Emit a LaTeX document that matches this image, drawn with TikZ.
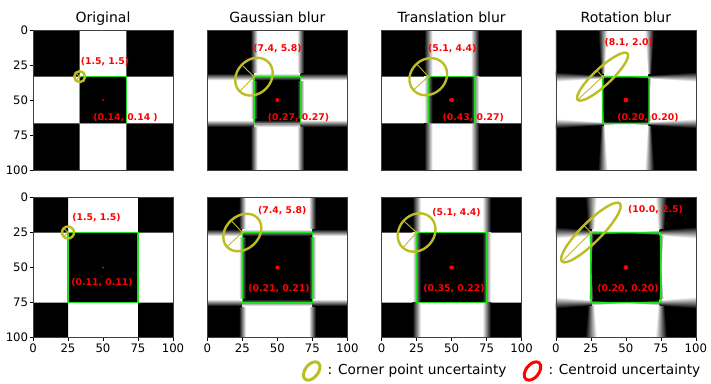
\documentclass[tikz,border=0pt]{standalone}
\usepackage{fontspec}
\setmainfont{DejaVu Sans}
\definecolor{yel}{RGB}{188,189,34}
\definecolor{grn}{RGB}{30,225,30}
\tikzset{
  frame/.style={draw=black!75, line width=0.6pt},
  greenbox/.style={draw=grn, line width=1.5pt},
  corner/.style={draw=yel, line width=2.4pt},
  cornerax/.style={draw=yel, line width=0.9pt},
  lbl/.style={text=red, font=\fontsize{9.3}{11}\selectfont\bfseries, inner sep=0pt},
  ptitle/.style={font=\fontsize{14}{16}\selectfont, anchor=base, inner sep=0pt},
  ticklbl/.style={font=\fontsize{11.7}{13}\selectfont, inner sep=0pt},
  tickmark/.style={line width=0.6pt},
  legtext/.style={font=\fontsize{13.7}{16}\selectfont, anchor=base west, inner sep=0pt},
}
% checkerboard base: #1 = A, #2 = B
\newcommand{\panelbase}[2]{%
  \fill[white] (0,0) rectangle (100,100);
  \fill[black] (0,0) rectangle (#1,#1) (#2,0) rectangle (100,#1)
    (0,#2) rectangle (#1,100) (#2,#2) rectangle (100,100) (#1,#1) rectangle (#2,#2);}
% vertical strip: x, y0, y1, w, left, right
\newcommand{\vstrip}[6]{\shade[left color=#5,right color=#6] (#1-#4/2,#2) rectangle (#1+#4/2,#3);}
% horizontal strip: y, x0, x1, w, top, bottom
\newcommand{\hstrip}[6]{\shade[top color=#5,bottom color=#6] (#2,#1-#4/2) rectangle (#3,#1+#4/2);}
\newcommand{\vblur}[3]{%
  \vstrip{#1}{0}{#1}{#3}{black}{white}
  \vstrip{#1}{#1}{#2}{#3}{white}{black}
  \vstrip{#1}{#2}{100}{#3}{black}{white}
  \vstrip{#2}{0}{#1}{#3}{white}{black}
  \vstrip{#2}{#1}{#2}{#3}{black}{white}
  \vstrip{#2}{#2}{100}{#3}{white}{black}}
\newcommand{\hblur}[3]{%
  \hstrip{#1}{0}{#1}{#3}{black}{white}
  \hstrip{#1}{#1}{#2}{#3}{white}{black}
  \hstrip{#1}{#2}{100}{#3}{black}{white}
  \hstrip{#2}{0}{#1}{#3}{white}{black}
  \hstrip{#2}{#1}{#2}{#3}{black}{white}
  \hstrip{#2}{#2}{100}{#3}{white}{black}}
\newcommand{\rotblur}[3]{%
  \foreach \rs in {0,2,...,98}{%
    \pgfmathsetmacro{\rc}{\rs+1}%
    \pgfmathsetmacro{\rw}{max(#3*abs(\rc-50),0.6)}%
    \pgfmathtruncatemacro{\rin}{and(\rc>#1,\rc<#2)}%
    \ifnum\rin=1
      \shade[left color=white,right color=black] (#1-\rw/2,\rs) rectangle (#1+\rw/2,\rs+2.3);
      \shade[left color=black,right color=white] (#2-\rw/2,\rs) rectangle (#2+\rw/2,\rs+2.3);
    \else
      \shade[left color=black,right color=white] (#1-\rw/2,\rs) rectangle (#1+\rw/2,\rs+2.3);
      \shade[left color=white,right color=black] (#2-\rw/2,\rs) rectangle (#2+\rw/2,\rs+2.3);
    \fi
  }%
  \foreach \rs in {0,2,...,98}{%
    \pgfmathsetmacro{\rc}{\rs+1}%
    \pgfmathsetmacro{\rw}{max(#3*abs(\rc-50),0.6)}%
    \pgfmathtruncatemacro{\rin}{and(\rc>#1,\rc<#2)}%
    \ifnum\rin=1
      \shade[top color=white,bottom color=black] (\rs,#1-\rw/2) rectangle (\rs+2.3,#1+\rw/2);
      \shade[top color=black,bottom color=white] (\rs,#2-\rw/2) rectangle (\rs+2.3,#2+\rw/2);
    \else
      \shade[top color=black,bottom color=white] (\rs,#1-\rw/2) rectangle (\rs+2.3,#1+\rw/2);
      \shade[top color=white,bottom color=black] (\rs,#2-\rw/2) rectangle (\rs+2.3,#2+\rw/2);
    \fi
  }}
% corner ellipse: coord, rotation, a, b, angle line a, angle line b, len a, len b
\newcommand{\cornerell}[8]{%
  \draw[corner, rotate around={#2:(#1)}] (#1) ellipse [x radius=#3pt, y radius=#4pt];
  \draw[cornerax] (#1) -- ++(#5:#7pt);
  \draw[cornerax] (#1) -- ++(#6:#8pt);
  \fill[yel] (#1) circle [radius=1.6pt];}
\begin{document}
\begin{tikzpicture}[x=1pt,y=-1pt]
\useasboundingbox (0,0) rectangle (711,383);
\fill[white] (0,0) rectangle (711,383);

% ---------- titles ----------
\node[ptitle] (t1) at (103,22) {Original};
\node[ptitle] (t2) at (277.3,22) {Gaussian blur};
\node[ptitle] (t3) at (451.6,22) {Translation blur};
\node[ptitle] (t4) at (625.9,22) {Rotation blur};

% ---------- top row ----------
\begin{scope}[xshift=33pt,yshift=-30pt,x=1.4pt,y=-1.4pt]
  \panelbase{33.33}{66.67}
  \draw[greenbox] (33.33,33.33) rectangle (66.67,66.67);
  \draw[frame] (0,0) rectangle (100,100);
  \coordinate (k1) at (33.33,33.33); \coordinate (m1) at (50,50);
\end{scope}
\begin{scope}[xshift=207.3pt,yshift=-30pt,x=1.4pt,y=-1.4pt]
  \panelbase{33.33}{66.67}
  \begin{scope}\clip (0,0) rectangle (100,100);
    \vblur{33.33}{66.67}{5}\hblur{33.33}{66.67}{5}
  \end{scope}
  \draw[greenbox] (33.33,33.33) rectangle (66.67,66.67);
  \draw[frame] (0,0) rectangle (100,100);
  \coordinate (k2) at (33.33,33.33); \coordinate (m2) at (50,50);
\end{scope}
\begin{scope}[xshift=381.6pt,yshift=-30pt,x=1.4pt,y=-1.4pt]
  \panelbase{33.33}{66.67}
  \begin{scope}\clip (0,0) rectangle (100,100);
    \vblur{33.33}{66.67}{6}
  \end{scope}
  \draw[greenbox] (33.33,33.33) rectangle (66.67,66.67);
  \draw[frame] (0,0) rectangle (100,100);
  \coordinate (k3) at (33.33,33.33); \coordinate (m3) at (50,50);
\end{scope}
\begin{scope}[xshift=555.9pt,yshift=-30pt,x=1.4pt,y=-1.4pt]
  \panelbase{33.33}{66.67}
  \begin{scope}\clip (0,0) rectangle (100,100);
    \rotblur{33.33}{66.67}{0.14}
  \end{scope}
  \draw[greenbox, rounded corners=1.5pt] (33.33,33.33) rectangle (66.67,66.67);
  \draw[frame] (0,0) rectangle (100,100);
  \coordinate (k4) at (33.33,33.33); \coordinate (m4) at (50,50);
\end{scope}

% ---------- bottom row ----------
\begin{scope}[xshift=33pt,yshift=-197.5pt,x=1.4pt,y=-1.4pt]
  \panelbase{25}{75}
  \draw[greenbox] (25,25) rectangle (75,75);
  \draw[frame] (0,0) rectangle (100,100);
  \coordinate (k5) at (25,25); \coordinate (m5) at (50,50);
\end{scope}
\begin{scope}[xshift=207.3pt,yshift=-197.5pt,x=1.4pt,y=-1.4pt]
  \panelbase{25}{75}
  \begin{scope}\clip (0,0) rectangle (100,100);
    \vblur{25}{75}{5}\hblur{25}{75}{5}
  \end{scope}
  \draw[greenbox] (25,25) rectangle (75,75);
  \draw[frame] (0,0) rectangle (100,100);
  \coordinate (k6) at (25,25); \coordinate (m6) at (50,50);
\end{scope}
\begin{scope}[xshift=381.6pt,yshift=-197.5pt,x=1.4pt,y=-1.4pt]
  \panelbase{25}{75}
  \begin{scope}\clip (0,0) rectangle (100,100);
    \vblur{25}{75}{6}
  \end{scope}
  \draw[greenbox] (25,25) rectangle (75,75);
  \draw[frame] (0,0) rectangle (100,100);
  \coordinate (k7) at (25,25); \coordinate (m7) at (50,50);
\end{scope}
\begin{scope}[xshift=555.9pt,yshift=-197.5pt,x=1.4pt,y=-1.4pt]
  \panelbase{25}{75}
  \begin{scope}\clip (0,0) rectangle (100,100);
    \rotblur{25}{75}{0.17}
  \end{scope}
  \draw[greenbox, rounded corners=2pt] (25,25) rectangle (75,75);
  \draw[frame] (0,0) rectangle (100,100);
  \coordinate (k8) at (25,25); \coordinate (m8) at (50,50);
\end{scope}

% ---------- corner uncertainty ellipses ----------
\cornerell{k1}{45}{5.5}{5.5}{225}{135}{4.5}{4.5}
\cornerell{k2}{46}{20.5}{17}{226}{136}{19.5}{16}
\cornerell{k3}{42}{20}{17.3}{222}{132}{19}{16.3}
\cornerell{k4}{43}{34}{8.5}{223}{133}{33}{7.5}
\cornerell{k5}{45}{6}{6}{225}{135}{5}{5}
\cornerell{k6}{43}{21}{16.5}{223}{133}{20}{15.5}
\cornerell{k7}{48}{20.5}{17.5}{228}{138}{19.5}{16.5}
\cornerell{k8}{45}{41}{10}{225}{135}{40}{9}

% ---------- centroid dots ----------
\fill[red] (m1) circle [radius=1.0pt];
\fill[red] (m2) circle [radius=2.0pt];
\fill[red] (m3) ellipse [x radius=2.6pt, y radius=2.0pt];
\fill[red] (m4) circle [radius=2.4pt];
\fill[red] (m5) circle [radius=1.0pt];
\fill[red] (m6) circle [radius=2.0pt];
\fill[red] (m7) ellipse [x radius=2.4pt, y radius=2.0pt];
\fill[red] (m8) circle [radius=2.4pt];

% ---------- red labels ----------
\node[lbl] (a1) at (105,62) {(1.5, 1.5)};
\node[lbl] (b1) at (125.5,118) {(0.14, 0.14 )};
\node[lbl] (a2) at (277.5,49) {(7.4, 5.8)};
\node[lbl] (b2) at (298.5,118) {(0.27, 0.27)};
\node[lbl] (a3) at (452.3,49) {(5.1, 4.4)};
\node[lbl] (b3) at (473.3,118) {(0.43, 0.27)};
\node[lbl] (a4) at (628.7,43) {(8.1, 2.0)};
\node[lbl] (b4) at (648,118) {(0.20, 0.20)};
\node[lbl] (a5) at (96.5,218) {(1.5, 1.5)};
\node[lbl] (b5) at (102,283) {(0.11, 0.11)};
\node[lbl] (a6) at (282.3,211) {(7.4, 5.8)};
\node[lbl] (b6) at (279,289) {(0.21, 0.21)};
\node[lbl] (a7) at (456.5,213) {(5.1, 4.4)};
\node[lbl] (b7) at (454,289) {(0.35, 0.22)};
\node[lbl] (a8) at (655.5,210) {(10.0, 2.5)};
\node[lbl] (b8) at (628,289) {(0.20, 0.20)};

% ---------- y ticks ----------
\foreach \v [count=\i from 0] in {0,25,50,75,100}{
  \draw[tickmark] (29.5,30+35*\i) -- (33,30+35*\i);
  \node[ticklbl, anchor=east] (yu\i) at (28.3,30+35*\i) {\v};
  \draw[tickmark] (29.5,197.5+35*\i) -- (33,197.5+35*\i);
  \node[ticklbl, anchor=east] (yl\i) at (28.3,197.5+35*\i) {\v};
}
% ---------- x ticks ----------
\foreach \xo [count=\j] in {33,207.3,381.6,555.9}{
  \foreach \v [count=\i from 0] in {0,25,50,75,100}{
    \draw[tickmark] (\xo+35*\i,337.5) -- (\xo+35*\i,341);
    \node[ticklbl] (x\j t\i) at (\xo+35*\i,348) {\v};
  }
}

% ---------- legend ----------
\draw[draw=yel, line width=3pt, rotate around={52:(311.7,371)}] (311.7,371) ellipse [x radius=10.5pt, y radius=6.5pt];
\coordinate (ly) at (311.7,371);
\node[legtext] (lt1) at (327.5,374.5) {: Corner point uncertainty};
\draw[draw=red, line width=3pt, rotate around={52:(532.5,371)}] (532.5,371) ellipse [x radius=10.5pt, y radius=6.5pt];
\coordinate (lr) at (532.5,371);
\node[legtext] (lt2) at (548.3,374.5) {: Centroid uncertainty};
\end{tikzpicture}
\end{document}
